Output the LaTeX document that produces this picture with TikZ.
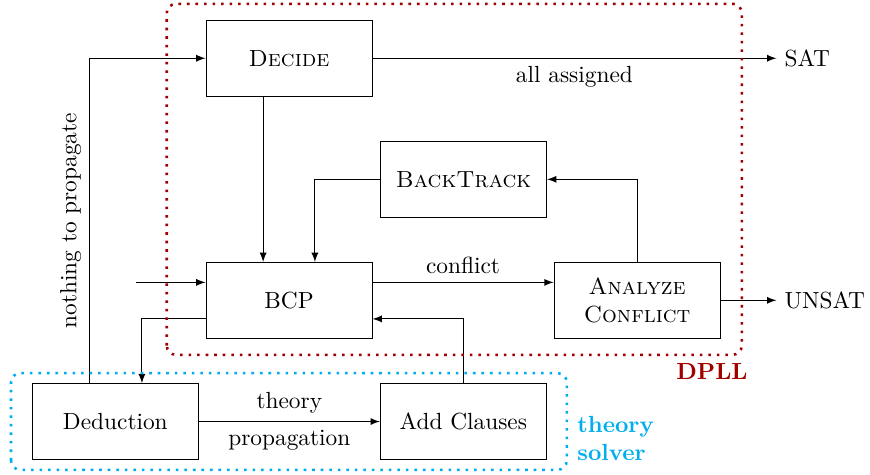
\documentclass[tikz,border=0pt]{standalone}
\usetikzlibrary{arrows}
\definecolor{dpllred}{RGB}{160,0,0}
\definecolor{theorycyan}{RGB}{0,174,239}

\begin{document}
\begin{tikzpicture}[>=latex,
  block/.style={draw, minimum width=2.5cm, minimum height=1.14cm, align=center},
  region/.style={line width=1.1pt, dash pattern=on 1.1pt off 2.55pt, rounded corners}]
  \useasboundingbox (0,0) rectangle (13.10,7.15);
  \node[block] (decide) at (4.352,6.273) {\textsc{Decide}};
  \node[block] (backtrack) at (6.980,4.450) {\textsc{BackTrack}};
  \node[block] (bcp) at (4.352,2.628) {BCP};
  \node[block] (analyze) at (9.593,2.628) {\textsc{Analyze}\\\textsc{Conflict}};
  \node[block] (deduction) at (1.737,0.803) {Deduction};
  \node[block] (addcl) at (6.977,0.803) {Add Clauses};
  \node[anchor=west] (sat) at (11.69,6.273) {SAT};
  \node[anchor=west] (unsat) at (11.69,2.628) {UNSAT};
  \coordinate (entry) at (2.05,2.898);

  \draw[->] (decide) -- node[below]{all assigned} (sat);
  \draw[->] ([xshift=-0.39cm]decide.south) -- ([xshift=-0.39cm]bcp.north);
  \draw[->] (backtrack.west) -| ([xshift=0.39cm]bcp.north);
  \draw[->] (analyze.north) |- (backtrack.east);
  \draw[->] (entry) -- (entry -| bcp.west);
  \draw[->] ([yshift=0.27cm]bcp.east) -- node[above]{conflict} ([yshift=0.27cm]bcp.east -| analyze.west);
  \draw[->] (analyze) -- (unsat);
  \draw[->] (addcl.north) |- ([yshift=-0.28cm]bcp.east);
  \draw[->] ([yshift=-0.28cm]bcp.west) -| ([xshift=0.4cm]deduction.north);
  \draw[->] ([xshift=-0.39cm]deduction.north) |- node[pos=0.25, sloped, above]{nothing to propagate} (decide.west);
  \draw[->] (deduction) -- node[above]{theory} node[below]{propagation} (addcl);

  \draw[region, dpllred] (2.511,1.807) rectangle (11.170,7.093);
  \draw[region, theorycyan] (0.166,0.075) rectangle (8.535,1.532);
  \node[text=dpllred, font=\bfseries] (dpll) at (10.72,1.556) {DPLL};
  \node[text=theorycyan, font=\bfseries, align=left, anchor=west] (solver) at (8.57,0.55) {theory\\solver};
\end{tikzpicture}
\end{document}
